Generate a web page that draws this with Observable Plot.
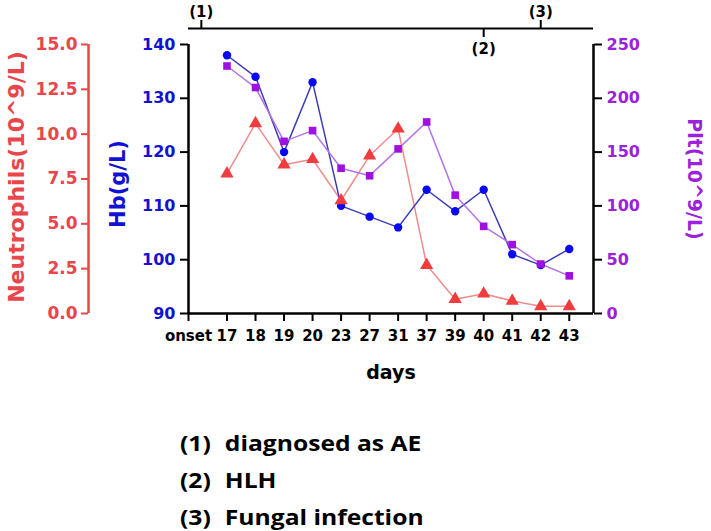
<!DOCTYPE html>
<html><head><meta charset="utf-8">
<script src="https://cdn.jsdelivr.net/npm/d3@7"></script>
<script src="https://cdn.jsdelivr.net/npm/@observablehq/plot@0.6"></script>
<style>
html,body{margin:0;padding:0;background:#fff;}
#chart{width:711px;height:400px;}
#notes{margin-top:24px;margin-left:180px;font-family:"Open Sans",sans-serif;font-weight:700;font-size:22px;line-height:37px;color:#000;transform:scaleX(1.12);transform-origin:0 0;}
#notes .n{display:inline-block;width:40px;}
</style></head><body>
<div id="chart"></div>
<div id="notes"></div>
<script>
// categories on the x axis
const days = ["onset","17","18","19","20","23","27","31","37","39","40","41","42","43"];
// days with measurements
const measureDays = ["17","18","19","20","23","27","31","37","39","40","41","42","43"];
// series values
const hb   = [138, 134, 120, 133, 110, 108, 106, 113, 109, 113, 101, 99, 102];
const plt  = [230, 210, 160, 170, 135, 128, 153, 178, 110, 81, 64, 46, 35];
const neut = [7.8, 10.6, 8.3, 8.6, 6.3, 8.8, 10.3, 2.7, 0.8, 1.1, 0.7, 0.4, 0.4];
// tick values
const hbTicks   = [90, 100, 110, 120, 130, 140];
const neutTicks = [0, 2.5, 5, 7.5, 10, 12.5, 15];
const pltTicks  = [0, 50, 100, 150, 200, 250];
// events on the top timeline
const eventLabels = ["(1)", "(2)", "(3)"];
const eventDays   = ["onset", "40", "42"];
const eventShift  = [0.45, 0, 0];
const eventSide   = ["above", "below", "above"];
const notes = [["(1)", "diagnosed as AE"], ["(2)", "HLH"], ["(3)", "Fungal infection"]];

const RED = "#f03c3c", RED_LINE = "#f08c8c", RED_TEXT = "#e8464b";
const BLUE = "#0a0af2", BLUE_LINE = "#3c3cb4", BLUE_TEXT = "#1212d2";
const PUR = "#a010e0", PUR_LINE = "#b472e6", PUR_TEXT = "#9b22d8";

const HB0 = 90, HB1 = 140;
const N = v => HB0 + v * (HB1 - HB0) / 15;
const P = v => HB0 + v * (HB1 - HB0) / 250;
// layout: an extra gap after the "onset" category, and padding after the last one
const GAP = 0.35, PAD = 0.85;
const pos = cat => { const k = days.indexOf(cat); return k === 0 ? 0 : k + GAP; };
const xMax = pos(days[days.length - 1]) + PAD;

const rows = measureDays.map((d, i) => ({x: pos(d), hb: hb[i], plt: P(plt[i]), neut: N(neut[i])}));
const ev = eventLabels.map((label, k) => ({label, x: pos(eventDays[k]) + eventShift[k], side: eventSide[k]}));
const up = ev.filter(d => d.side === "above"), down = ev.filter(d => d.side === "below");
const xTicks = days.map(pos);

const chart = Plot.plot({
  width: 711, height: 400,
  marginLeft: 188, marginRight: 118, marginTop: 44, marginBottom: 87,
  x: {type: "linear", domain: [0, xMax], axis: null},
  y: {domain: [HB0, HB1], axis: null},
  style: {fontFamily: "DejaVu Sans", fontWeight: "bold", background: "white", overflow: "visible"},
  marks: [
    // lines
    Plot.line(rows, {x: "x", y: "neut", stroke: RED_LINE, strokeWidth: 1.5}),
    Plot.line(rows, {x: "x", y: "hb", stroke: BLUE_LINE, strokeWidth: 1.5}),
    Plot.line(rows, {x: "x", y: "plt", stroke: PUR_LINE, strokeWidth: 1.5}),
    // markers
    Plot.dot(rows, {x: "x", y: "hb", symbol: "circle", r: 4.2, fill: BLUE}),
    Plot.dot(rows, {x: "x", y: "plt", symbol: "square", r: 4.3, fill: PUR}),
    Plot.dot(rows, {x: "x", y: "neut", symbol: "triangle", r: 4.9, fill: RED}),
    // axis lines
    Plot.ruleY([HB0], {strokeWidth: 2.5, stroke: "black"}),
    Plot.ruleX([0], {y1: HB0, y2: HB1, strokeWidth: 2.5, stroke: "black"}),
    Plot.ruleX([xMax], {y1: HB0, y2: HB1, strokeWidth: 2.5, stroke: "black"}),
    Plot.ruleX([0], {y1: HB0, y2: HB1, dx: -100, strokeWidth: 2.5, stroke: RED_TEXT}),
    // x axis
    Plot.axisX(xTicks, {tickFormat: (v, i) => days[xTicks.indexOf(v)], tickSize: 8, tickPadding: 9, fontSize: 15, fontWeight: "bold", stroke: "black", fill: "black", strokeWidth: 2, label: null}),
    // Hb axis
    Plot.axisY(hbTicks, {anchor: "left", tickSize: 8, tickPadding: 5, fontSize: 16, fontWeight: "bold", stroke: "black", fill: BLUE_TEXT, strokeWidth: 2, label: null}),
    // Neutrophils axis
    Plot.axisY(neutTicks.map(N), {anchor: "left", dx: -100, tickFormat: d => ((d - HB0) * 15 / (HB1 - HB0)).toFixed(1), tickSize: 7, tickPadding: 4, fontSize: 17, fontWeight: "bold", stroke: RED_TEXT, fill: RED_TEXT, strokeWidth: 2, label: null}),
    // Plt axis
    Plot.axisY(pltTicks.map(P), {anchor: "right", tickFormat: d => String(Math.round((d - HB0) * 250 / (HB1 - HB0))), tickSize: 8, tickPadding: 5, fontSize: 16, fontWeight: "bold", stroke: "black", fill: PUR_TEXT, strokeWidth: 2, label: null}),
    // axis titles
    Plot.text(["Neutrophils(10^9/L)"], {text: d => d, frameAnchor: "left", dx: -172, dy: -2, rotate: -90, textAnchor: "middle", lineAnchor: "middle", fontSize: 22, fontWeight: "bold", fill: RED_TEXT}),
    Plot.text(["Hb(g/L)"], {text: d => d, frameAnchor: "left", dx: -70, dy: 5, rotate: -90, textAnchor: "middle", lineAnchor: "middle", fontSize: 21, fontWeight: "bold", fill: BLUE_TEXT}),
    Plot.text(["Plt(10^9/L)"], {text: d => d, frameAnchor: "right", dx: 101, rotate: 90, textAnchor: "middle", lineAnchor: "middle", fontSize: 19, fontWeight: "bold", fill: PUR_TEXT}),
    Plot.text(["days"], {text: d => d, frameAnchor: "bottom", dy: 59, textAnchor: "middle", lineAnchor: "middle", fontSize: 19, fontWeight: "bold", fill: "black"}),
    // top timeline
    Plot.ruleY([HB1], {dy: -16, strokeWidth: 2, stroke: "black"}),
    Plot.ruleX(up, {x: "x", y1: HB1, y2: HB1, dy: -16, insetTop: -8, strokeWidth: 2, stroke: "black"}),
    Plot.ruleX(down, {x: "x", y1: HB1, y2: HB1, dy: -16, insetBottom: -9, strokeWidth: 2, stroke: "black"}),
    Plot.text(up, {x: "x", y: () => HB1, text: "label", dy: -32, lineAnchor: "middle", fontSize: 15, fontWeight: "bold", fill: "black"}),
    Plot.text(down, {x: "x", y: () => HB1, text: "label", dy: 5, lineAnchor: "middle", fontSize: 15, fontWeight: "bold", fill: "black"})
  ]
});
document.getElementById("chart").appendChild(chart);

const notesDiv = document.getElementById("notes");
notes.forEach(([n, t]) => {
  const line = document.createElement("div");
  const a = document.createElement("span"); a.className = "n"; a.textContent = n;
  const b = document.createElement("span"); b.textContent = t;
  line.appendChild(a); line.appendChild(b);
  notesDiv.appendChild(line);
});
</script>
</body></html>
